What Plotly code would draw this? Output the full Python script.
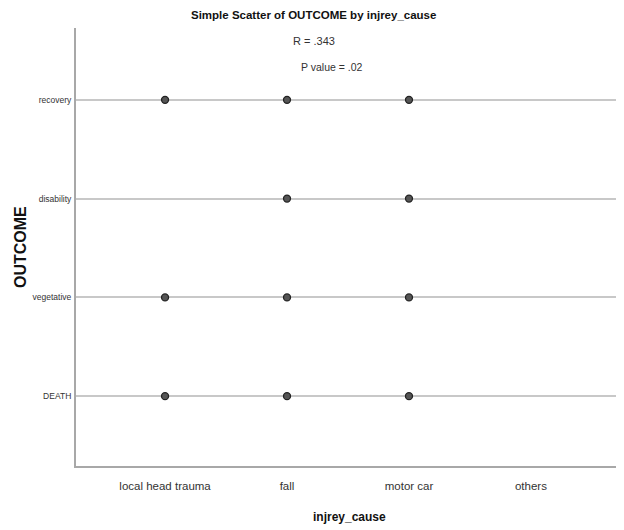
import plotly.graph_objects as go

x_categories = ["local head trauma", "fall", "motor car", "others"]
y_categories = ["DEATH", "vegetative", "disability", "recovery"]

point_cause = ["local head trauma", "fall", "motor car",
               "fall", "motor car",
               "local head trauma", "fall", "motor car",
               "local head trauma", "fall", "motor car"]
point_outcome = ["recovery", "recovery", "recovery",
                 "disability", "disability",
                 "vegetative", "vegetative", "vegetative",
                 "DEATH", "DEATH", "DEATH"]

title_text = "Simple Scatter of OUTCOME by injrey_cause"
x_title = "injrey_cause"
y_title = "OUTCOME"
r_text = "R = .343"
p_text = "P value = .02"

FONT = "Liberation Sans, Arial, sans-serif"
OFF = 8  # page body margin offset
W, H = 624 - OFF, 530 - OFF
# plot area in page pixels: x 76..620, y 28..466
L, R, T, B = 76 - OFF, W - (620 - OFF), 28 - OFF, H - (466 - OFF)
PW, PH = W - L - R, H - T - B


def px(x):
    return (x - OFF - L) / PW


def py(y):
    return (H - B - (y - OFF)) / PH


fig = go.Figure()
fig.add_trace(go.Scatter(
    x=point_cause, y=point_outcome, mode="markers",
    marker=dict(size=7, color="#555555", line=dict(color="#222222", width=1.3)),
    showlegend=False, hoverinfo="x+y"))

fig.update_layout(
    width=W, height=H,
    margin=dict(l=L, r=R, t=T, b=B),
    paper_bgcolor="white", plot_bgcolor="white",
    font=dict(family=FONT, color="#222222"),
    xaxis=dict(type="category", categoryorder="array", categoryarray=x_categories,
               range=[-0.73, 3.73], showgrid=False, zeroline=False,
               showline=True, linecolor="#a8a8a8", linewidth=2, automargin=False,
               ticks="outside", ticklen=8, tickcolor="rgba(0,0,0,0)",
               tickfont=dict(size=11.5, color="#333333", family=FONT)),
    yaxis=dict(type="category", categoryorder="array", categoryarray=y_categories,
               range=[-0.707, 3.727], showgrid=True, gridcolor="#c8c8c8", gridwidth=2,
               zeroline=False, showline=True, linecolor="#a8a8a8", linewidth=2,
               automargin=False, ticks="outside", ticklen=1, tickcolor="rgba(0,0,0,0)",
               tickfont=dict(size=8.5, color="#333333", family=FONT)),
)

ann = [
    (title_text, 313, 8, 11.5, True, 0, "top"),
    (r_text, 314, 41, 11, False, 0, "middle"),
    (p_text, 332, 67, 10.5, False, 0, "middle"),
    (x_title, 349, 517, 12, True, 0, "middle"),
    (y_title, 20, 247, 16, True, -90, "middle"),
]
for text, x, y, size, bold, ang, ya in ann:
    fig.add_annotation(text=f"<b>{text}</b>" if bold else text,
                       xref="paper", yref="paper", x=px(x), y=py(y),
                       xanchor="center", yanchor=ya, showarrow=False,
                       textangle=ang, borderpad=0,
                       font=dict(size=size, color="#111111" if bold else "#333333",
                                 family=FONT))

fig.write_html("out.html")
